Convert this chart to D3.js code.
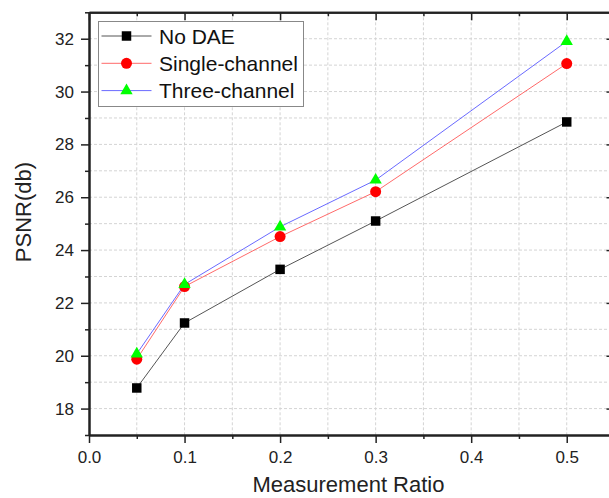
<!DOCTYPE html>
<html>
<head>
<meta charset="utf-8">
<script src="https://cdn.jsdelivr.net/npm/d3@7"></script>
<style>
  body { margin: 0; background: #fff; }
  svg { display: block; font-family: "Liberation Sans", Arial, sans-serif; }
</style>
</head>
<body>
<div id="chart"></div>
<script>
// data
var ratios = [0.05, 0.1, 0.2, 0.3, 0.5];
var noDAE = [18.78, 21.24, 23.27, 25.1, 28.85];
var singleChannel = [19.87, 22.62, 24.51, 26.21, 31.06];
var threeChannel = [20.07, 22.7, 24.88, 26.65, 31.9];
var seriesNames = ["No DAE", "Single-channel", "Three-channel"];
var xTicks = [0, 0.1, 0.2, 0.3, 0.4, 0.5];
var yTicks = [18, 20, 22, 24, 26, 28, 30, 32];

var width = 609, height = 498;
var svg = d3.select("#chart").append("svg")
    .attr("width", width).attr("height", height)
    .style("overflow", "hidden");

var mLeft = 89, mRight = 614.5, mTop = 12.3, mBottom = 435;
var x = d3.scaleLinear().domain([0, 0.55]).range([mLeft, mRight]);
var y = d3.scaleLinear().domain([17, 33]).range([mBottom, mTop]);

var xMinor = d3.range(0.05, 0.55, 0.1).map(function(v) { return +v.toFixed(2); });
var yMinor = d3.range(17, 34, 2);

// grid
var grid = svg.append("g").attr("stroke", "#d4d4d4").attr("stroke-dasharray", "3,2").attr("stroke-width", 1);
xTicks.concat(xMinor).filter(function(v) { return v > 0; }).forEach(function(v) {
    grid.append("line").attr("x1", x(v)).attr("x2", x(v)).attr("y1", mTop).attr("y2", mBottom);
});
yTicks.concat(yMinor).filter(function(v) { return v > 17 && v < 33; }).forEach(function(v) {
    grid.append("line").attr("x1", mLeft).attr("x2", mRight).attr("y1", y(v)).attr("y2", y(v));
});

function styleAxis(g) {
    g.select(".domain").attr("stroke", "#222").attr("stroke-width", 2);
    g.selectAll(".tick line").attr("stroke", "#222").attr("stroke-width", 1.5);
    g.selectAll("text").attr("font-size", 17).attr("fill", "#222")
        .attr("font-family", "Liberation Sans, Arial, sans-serif");
}

// bottom axis
svg.append("g").attr("transform", "translate(0," + mBottom + ")")
    .call(d3.axisBottom(x).tickValues(xTicks).tickFormat(d3.format(".1f")).tickSize(8).tickSizeOuter(0).tickPadding(8))
    .call(styleAxis);
svg.append("g").attr("transform", "translate(0," + mBottom + ")")
    .call(d3.axisBottom(x).tickValues(xMinor).tickFormat("").tickSize(4).tickSizeOuter(0))
    .call(styleAxis);
// top axis (ticks inward)
svg.append("g").attr("transform", "translate(0," + mTop + ")")
    .call(d3.axisTop(x).tickValues(xTicks).tickFormat("").tickSize(-8).tickSizeOuter(0))
    .call(styleAxis);
svg.append("g").attr("transform", "translate(0," + mTop + ")")
    .call(d3.axisTop(x).tickValues(xMinor).tickFormat("").tickSize(-4).tickSizeOuter(0))
    .call(styleAxis);
// left axis
svg.append("g").attr("transform", "translate(" + mLeft + ",0)")
    .call(d3.axisLeft(y).tickValues(yTicks).tickSize(8).tickSizeOuter(0).tickPadding(7))
    .call(styleAxis);
svg.append("g").attr("transform", "translate(" + mLeft + ",0)")
    .call(d3.axisLeft(y).tickValues(yMinor).tickFormat("").tickSize(4).tickSizeOuter(0))
    .call(styleAxis);
// right axis (ticks inward)
svg.append("g").attr("transform", "translate(" + mRight + ",0)")
    .call(d3.axisRight(y).tickValues(yTicks).tickFormat("").tickSize(-8).tickSizeOuter(0))
    .call(styleAxis);
svg.append("g").attr("transform", "translate(" + mRight + ",0)")
    .call(d3.axisRight(y).tickValues(yMinor).tickFormat("").tickSize(-4).tickSizeOuter(0))
    .call(styleAxis);

// axis titles
svg.append("text").attr("x", (mLeft + 608) / 2).attr("y", 492)
    .attr("text-anchor", "middle").attr("font-size", 22).attr("fill", "#222")
    .text("Measurement Ratio");
svg.append("text").attr("transform", "translate(31,212) rotate(-90)")
    .attr("text-anchor", "middle").attr("font-size", 22).attr("fill", "#222")
    .text("PSNR(db)");

var series = [
    { name: seriesNames[0], values: noDAE, line: "#555", fill: "#000", shape: d3.symbolSquare, size: 90 },
    { name: seriesNames[1], values: singleChannel, line: "#ff6a6a", fill: "#ff0000", shape: d3.symbolCircle, size: 95 },
    { name: seriesNames[2], values: threeChannel, line: "#6a6aff", fill: "#00ff00", shape: d3.symbolTriangle, size: 66 }
];

var line = d3.line()
    .x(function(d, i) { return x(ratios[i]); })
    .y(function(d) { return y(d); });

series.forEach(function(s) {
    svg.append("path").datum(s.values)
        .attr("d", line).attr("fill", "none")
        .attr("stroke", s.line).attr("stroke-width", 1);
});
series.forEach(function(s) {
    svg.append("g").selectAll("path").data(s.values).enter().append("path")
        .attr("d", d3.symbol().type(s.shape).size(s.size))
        .attr("transform", function(d, i) { return "translate(" + x(ratios[i]) + "," + y(d) + ")"; })
        .attr("fill", s.fill);
});

// legend
var legend = svg.append("g");
legend.append("rect").attr("x", 98.5).attr("y", 21.5).attr("width", 205).attr("height", 85)
    .attr("fill", "#fff").attr("stroke", "#888").attr("stroke-width", 1);
series.forEach(function(s, i) {
    var ly = 36 + i * 27.3;
    legend.append("line").attr("x1", 101.5).attr("x2", 151.5).attr("y1", ly).attr("y2", ly)
        .attr("stroke", s.line).attr("stroke-width", 1);
    legend.append("path").attr("d", d3.symbol().type(s.shape).size(s.size)())
        .attr("transform", "translate(126.5," + ly + ")").attr("fill", s.fill);
    legend.append("text").attr("x", 159).attr("y", ly).attr("dy", "0.36em")
        .attr("font-size", 21).attr("fill", "#111").text(s.name);
});
</script>
</body>
</html>
